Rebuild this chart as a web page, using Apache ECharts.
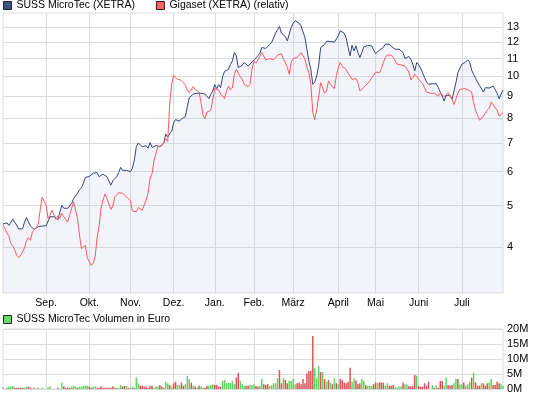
<!DOCTYPE html>
<html>
<head>
<meta charset="utf-8">
<script src="https://cdn.jsdelivr.net/npm/echarts@6.0.0/dist/echarts.min.js"></script>
<style>
  html, body { margin: 0; padding: 0; background: #fff; }
  #chart { width: 545px; height: 398px; }
</style>
</head>
<body>
<div id="chart"></div>
<script>
// month labels and the trading-day index where each month starts
const monthLabels = ['Sep.', 'Okt.', 'Nov.', 'Dez.', 'Jan.', 'Feb.', 'März', 'April', 'Mai', 'Juni', 'Juli'];
const monthStarts = [22, 44, 65, 87, 108, 128, 148, 171, 190, 212, 234];

const priceTicks = [4, 5, 6, 7, 8, 9, 10, 11, 12, 13];
const volumeTicks = [0, 5, 10, 15, 20];

// SÜSS MicroTec (XETRA), EUR, one value per trading day
const suss = [
  4.53, 4.54, 4.56, 4.50, 4.53, 4.65, 4.64, 4.50, 4.41, 4.40,
  4.42, 4.58, 4.69, 4.58, 4.48, 4.45, 4.40, 4.43, 4.47, 4.48,
  4.48, 4.48, 4.49, 4.50, 4.71, 4.73, 4.71, 4.68, 4.64, 4.63,
  5.01, 4.93, 4.95, 4.93, 4.91, 5.06, 5.19, 5.21, 5.34, 5.44,
  5.50, 5.64, 5.82, 5.86, 5.84, 5.86, 5.95, 6.00, 5.97, 5.84,
  5.86, 5.92, 5.89, 5.84, 5.79, 5.58, 5.71, 5.74, 5.84, 5.97,
  6.14, 6.04, 6.06, 6.04, 6.00,
  6.00, 6.11, 6.39, 6.86, 6.99, 6.92, 6.86, 6.86, 6.89, 6.80,
  7.01, 6.83, 6.89, 6.90, 6.84, 6.86, 6.84, 6.99, 7.34, 7.22,
  7.35, 7.44, 7.79, 7.93, 7.96, 7.86, 7.96, 7.90, 8.05, 8.50,
  8.92, 8.99, 9.09, 9.13, 9.13, 9.13, 9.13, 9.13, 9.09, 8.99,
  8.87, 9.09, 9.24, 9.56, 9.36, 9.56, 9.41, 9.98, 10.27, 10.29,
  10.38, 10.65, 10.86, 11.36, 11.16, 10.48, 10.48, 10.61, 10.77, 10.73,
  10.57, 10.67, 10.80, 10.92,
  10.96, 11.16, 11.32, 11.67, 11.61, 11.61, 11.73, 11.86, 11.99, 12.03,
  12.60, 12.83, 13.07, 12.60, 12.65, 12.38, 12.09, 11.99, 13.00, 13.30,
  13.47, 13.59, 13.30, 13.11, 12.69, 12.32, 11.56, 10.86, 10.38, 9.58,
  9.70, 10.02, 10.61, 11.67, 11.77, 11.86, 12.07, 12.03, 12.05, 12.03,
  12.01, 12.07, 12.42, 12.76, 12.72, 12.60, 12.29, 11.67, 11.16, 11.82,
  11.46, 11.77, 11.36, 11.06, 11.36, 11.71, 11.77, 11.80, 11.73, 11.77,
  11.52, 11.30, 11.40, 11.50,
  11.50, 11.69, 11.88, 11.94, 11.88, 11.75, 11.82, 11.56, 11.56, 11.56,
  11.52, 11.36, 11.00, 11.06, 11.12, 10.96, 10.67, 10.29, 10.77, 10.63,
  10.44, 10.20, 9.93, 9.70, 9.58, 9.67, 9.61, 9.70, 9.61, 9.41,
  9.19, 8.99, 8.76, 9.03, 9.03, 9.03, 8.84, 8.87, 9.67, 10.20,
  10.16, 10.67, 10.63, 10.80, 10.92, 10.80, 10.34, 10.11, 9.89, 9.70,
  9.53, 9.43, 9.19, 9.41, 9.39, 9.39, 9.39, 9.49, 9.32, 9.13,
  8.87, 8.84, 9.29
];

// Gigaset (XETRA), relative to SÜSS at the first day
const gigaset = [
  4.50, 4.42, 4.32, 4.24, 4.08, 4.02, 3.94, 3.83, 3.78, 3.83,
  3.90, 3.99, 4.15, 4.21, 4.15, 4.34, 4.40, 4.45, 4.53, 4.90,
  5.23, 5.23, 5.01, 4.67, 4.75, 4.88, 4.84, 4.64, 4.73, 4.67,
  4.80, 4.71, 4.64, 4.58, 4.75, 4.93, 5.10, 5.15, 4.67, 4.27,
  3.97, 3.97, 4.04, 3.78, 3.70, 3.63, 3.67, 3.81, 4.21, 4.48,
  4.93, 5.15, 5.32, 5.20, 5.15, 4.90, 4.99, 5.24, 5.26, 5.36,
  5.34, 5.34, 5.29, 5.24, 5.20,
  5.13, 4.86, 4.85, 4.84, 4.95, 4.90, 4.88, 4.93, 5.15, 5.36,
  5.79, 5.93, 6.36, 6.62, 6.86, 6.86, 6.89, 7.01, 7.15, 7.05,
  8.60, 9.58, 10.05, 10.11, 9.84, 9.88, 9.79, 9.75, 9.54, 9.29,
  9.16, 9.29, 9.46, 9.32, 9.24, 9.19, 8.68, 8.11, 7.96, 8.25,
  8.31, 8.34, 8.40, 9.36, 9.38, 9.29, 9.09, 8.99, 8.87, 9.24,
  9.49, 9.29, 9.41, 10.11, 10.38, 10.29, 9.98, 9.84, 9.58, 9.49,
  9.46, 9.58, 10.38, 10.86,
  10.73, 10.77, 11.12, 11.36, 11.26, 10.92, 11.00, 11.00, 11.06, 10.92,
  11.06, 11.20, 11.24, 11.28, 10.96, 10.77, 10.48, 10.11, 10.80, 11.00,
  11.06, 11.06, 11.20, 11.36, 11.28, 10.96, 10.48, 10.20, 9.58, 8.23,
  7.93, 8.37, 8.96, 9.67, 9.41, 9.13, 9.24, 9.75, 9.58, 9.58,
  9.36, 10.02, 10.48, 10.77, 10.54, 10.46, 10.38, 10.16, 10.02, 9.84,
  9.84, 9.88, 9.67, 9.24, 9.32, 9.41, 9.53, 9.58, 9.73, 9.93,
  10.05, 10.23, 10.20, 10.20,
  10.42, 10.77, 11.06, 11.21, 11.21, 11.20, 11.06, 10.86, 10.67, 10.57,
  10.63, 10.61, 10.57, 10.48, 10.23, 9.80, 9.93, 10.11, 9.98, 9.84,
  9.73, 9.61, 9.41, 9.19, 9.13, 9.13, 9.13, 9.13, 9.09, 8.99,
  9.16, 9.06, 8.96, 9.03, 9.16, 9.08, 8.84, 8.60, 8.68, 9.13,
  9.32, 9.36, 9.36, 9.36, 9.32, 9.36, 9.19, 8.68, 8.34, 8.11,
  7.90, 7.90, 8.08, 8.15, 8.34, 8.43, 8.71, 8.68, 8.45, 8.34,
  8.08, 8.01, 8.23
];

// SÜSS MicroTec volume, million EUR per day
const volume = [
  0.4, 0, 0.4, 0.8, 0.8, 1.0, 0.4, 0.4, 0.4, 0.4,
  0.4, 0.5, 0.8, 0.8, 0.4, 0, 0.4, 0, 0.4, 0,
  0.4, 0, 0, 0.5, 0.8, 0, 0, 0, 0.4, 0,
  2.1, 0.8, 0.4, 0.4, 0.4, 0.8, 1.1, 0.8, 0.4, 0.8,
  0.8, 1.1, 1.1, 1.1, 0.8, 0.4, 0.8, 0.8, 0.4, 0.4,
  0.8, 0.4, 0.4, 0.4, 0.4, 0.4, 0.8, 0.4, 0.4, 0.4,
  1.3, 0.8, 1.0, 1.0, 0.4, 0.4, 0.8, 0.4, 3.8, 1.9,
  1.1, 1.1, 0.8, 0.8, 0.4, 1.1, 1.1, 0.4, 0.8, 0.8,
  1.3, 0.8, 0.4, 2.4, 1.9, 1.3, 0.8, 1.9, 2.4, 1.3,
  1.3, 2.1, 1.1, 1.6, 4.4, 3.3, 2.1, 1.1, 0.8, 0.4,
  1.1, 0.8, 0.4, 0.4, 1.1, 1.1, 1.3, 1.6, 1.3, 1.3,
  0.8, 0.8, 2.7, 3.0, 2.0, 2.0, 2.0, 2.7, 1.6, 3.8,
  5.4, 2.7, 1.7, 1.1, 1.1, 1.1, 1.3, 1.3, 1.6, 1.0,
  0.8, 1.1, 3.3, 1.6, 1.3, 1.6, 1.0, 1.3, 1.9, 1.9,
  3.6, 6.3, 1.9, 3.6, 3.0, 1.9, 2.7, 2.7, 3.3, 1.6,
  1.9, 2.2, 1.6, 3.3, 1.9, 5.2, 6.0, 6.0, 17.7, 6.9,
  3.6, 7.7, 5.6, 5.6, 3.3, 2.4, 3.0, 2.1, 1.6, 3.6,
  1.9, 1.6, 3.3, 3.0, 2.2, 1.9, 2.4, 7.1, 2.4, 3.6,
  2.9, 1.7, 1.9, 3.3, 2.7, 1.3, 1.0, 1.0, 1.0, 1.6,
  2.2, 1.9, 2.2, 2.2, 2.1, 1.1, 1.9, 1.1, 1.1, 1.3,
  0.6, 0.4, 0.8, 0.8, 2.2, 1.6, 1.6, 1.0, 0.8, 1.1,
  4.7, 4.4, 1.0, 0.8, 0.8, 1.9, 1.1, 2.4, 0, 1.3,
  0.4, 1.1, 0.4, 2.7, 2.7, 1.1, 3.8, 1.3, 1.1, 1.3,
  1.9, 3.3, 3.3, 1.6, 1.6, 2.2, 1.1, 1.6, 2.4, 3.8,
  5.4, 2.2, 1.1, 1.1, 1.9, 1.9, 1.1, 1.9, 2.2, 3.3,
  1.3, 1.3, 2.4, 1.9, 1.6, 1.0
];

// g = up day, r = down day
const volumeDir = (
  'ggggggrrrr' + 'rggrrgrggg' + 'ggggggggrg' + 'grrrrgggrg' + 'ggggrrggrr' +
  'rrrrrrrrgg' + 'grrgrggrgg' + 'rrrrrrrggg' + 'rrrggrgrrg' + 'grrgggrgrg' +
  'rggrrgggrr' + 'rrgggggggr' + 'rgggrrgggr' + 'rggrrrgggg' + 'grrgrrgggg' +
  'rrrrrrrrrg' + 'ggrgrgrgrg' + 'rgrrrrrrgg' + 'rrrggrgggr' + 'rgrrrggrrr' +
  'ggggrggrrr' + 'rgrrrrrrgg' + 'rgrrrggrrr' + 'ggrggrgggr' + 'grrrgrrrgg' +
  'rrrrgg'
).split('');

const FONT = "'Liberation Sans', Arial, sans-serif";
const FONT_SIZE = 10.5;
const GRID_COLOR = '#dcdcdc';
const BLUE = '#34457a';
const RED = '#ff5a5a';
const VOL_GREEN = '#5fd65f';
const VOL_RED = '#d95555';

const days = suss.map((v, i) => String(i));
const isMonthStart = (i) => monthStarts.indexOf(i) !== -1;

const chart = echarts.init(document.getElementById('chart'), null, { renderer: 'canvas' });

const option = {
  animation: false,
  backgroundColor: '#fff',
  textStyle: { fontFamily: FONT },
  legend: [
    {
      left: 3,
      top: 0,
      padding: 0,
      itemWidth: 8,
      itemHeight: 8,
      itemGap: 21,
      icon: 'rect',
      selectedMode: false,
      textStyle: { fontSize: FONT_SIZE, color: '#000', fontFamily: FONT },
      data: [
        { name: 'SÜSS MicroTec (XETRA)', itemStyle: { color: '#3f5185', borderColor: '#222', borderWidth: 1 } },
        { name: 'Gigaset (XETRA) (relativ)', itemStyle: { color: '#ff6262', borderColor: '#222', borderWidth: 1 } }
      ]
    },
    {
      left: 3,
      top: 314,
      padding: 0,
      itemWidth: 8,
      itemHeight: 8,
      icon: 'rect',
      selectedMode: false,
      textStyle: { fontSize: FONT_SIZE, color: '#000', fontFamily: FONT },
      data: [
        { name: 'SÜSS MicroTec Volumen in Euro', itemStyle: { color: '#66dd66', borderColor: '#222', borderWidth: 1 } }
      ]
    }
  ],
  grid: [
    { left: 3, right: 42, top: 13, height: 280, show: true, borderColor: GRID_COLOR, borderWidth: 1, outerBoundsMode: 'none' },
    { left: 3, right: 42, top: 329, height: 60, show: true, borderColor: GRID_COLOR, borderWidth: 1, outerBoundsMode: 'none' }
  ],
  xAxis: [
    {
      type: 'category',
      gridIndex: 0,
      data: days,
      boundaryGap: false,
      axisLine: { show: false },
      axisTick: { show: false },
      axisLabel: {
        interval: (i) => isMonthStart(i),
        formatter: (v) => monthLabels[monthStarts.indexOf(Number(v))],
        fontSize: FONT_SIZE,
        color: '#000',
        margin: 5
      },
      splitLine: { show: true, interval: (i) => isMonthStart(i), lineStyle: { color: GRID_COLOR } }
    },
    {
      type: 'category',
      gridIndex: 1,
      data: days,
      boundaryGap: false,
      axisLine: { show: false },
      axisTick: { show: false },
      axisLabel: { show: false },
      splitLine: { show: true, interval: (i) => isMonthStart(i), lineStyle: { color: GRID_COLOR } }
    }
  ],
  yAxis: [
    {
      type: 'value',
      gridIndex: 0,
      position: 'right',
      min: Math.log(3.13),
      max: Math.log(14.04),
      axisLine: { show: false },
      axisTick: { show: false, customValues: priceTicks.map(Math.log) },
      axisLabel: {
        customValues: priceTicks.map(Math.log),
        formatter: (v) => String(Math.round(Math.exp(v))),
        fontSize: FONT_SIZE + 0.5,
        color: '#000',
        margin: 4
      },
      splitLine: { show: true, lineStyle: { color: GRID_COLOR } }
    },
    {
      type: 'value',
      gridIndex: 1,
      position: 'right',
      min: volumeTicks[0],
      max: volumeTicks[volumeTicks.length - 1],
      interval: 5,
      axisLine: { show: false },
      axisTick: { show: false },
      axisLabel: { formatter: '{value}M', fontSize: FONT_SIZE + 0.5, color: '#000', margin: 4 },
      splitLine: { show: true, lineStyle: { color: GRID_COLOR } }
    }
  ],
  series: [
    {
      name: 'SÜSS MicroTec (XETRA)',
      type: 'line',
      xAxisIndex: 0,
      yAxisIndex: 0,
      data: suss.map(Math.log),
      symbol: 'none',
      lineStyle: { color: BLUE, width: 1 },
      itemStyle: { color: BLUE },
      areaStyle: { color: 'rgba(200,206,236,0.31)', origin: 'start' },
      z: 2
    },
    {
      name: 'Gigaset (XETRA) (relativ)',
      type: 'line',
      xAxisIndex: 0,
      yAxisIndex: 0,
      data: gigaset.map(Math.log),
      symbol: 'none',
      lineStyle: { color: RED, width: 1 },
      itemStyle: { color: RED },
      z: 3
    },
    {
      name: 'SÜSS MicroTec Volumen in Euro',
      type: 'bar',
      xAxisIndex: 1,
      yAxisIndex: 1,
      data: volume,
      barWidth: 1.5,
      itemStyle: {
        color: (p) => (volumeDir[p.dataIndex] === 'g' ? VOL_GREEN : VOL_RED)
      }
    }
  ]
};

chart.setOption(option);
</script>
</body>
</html>
